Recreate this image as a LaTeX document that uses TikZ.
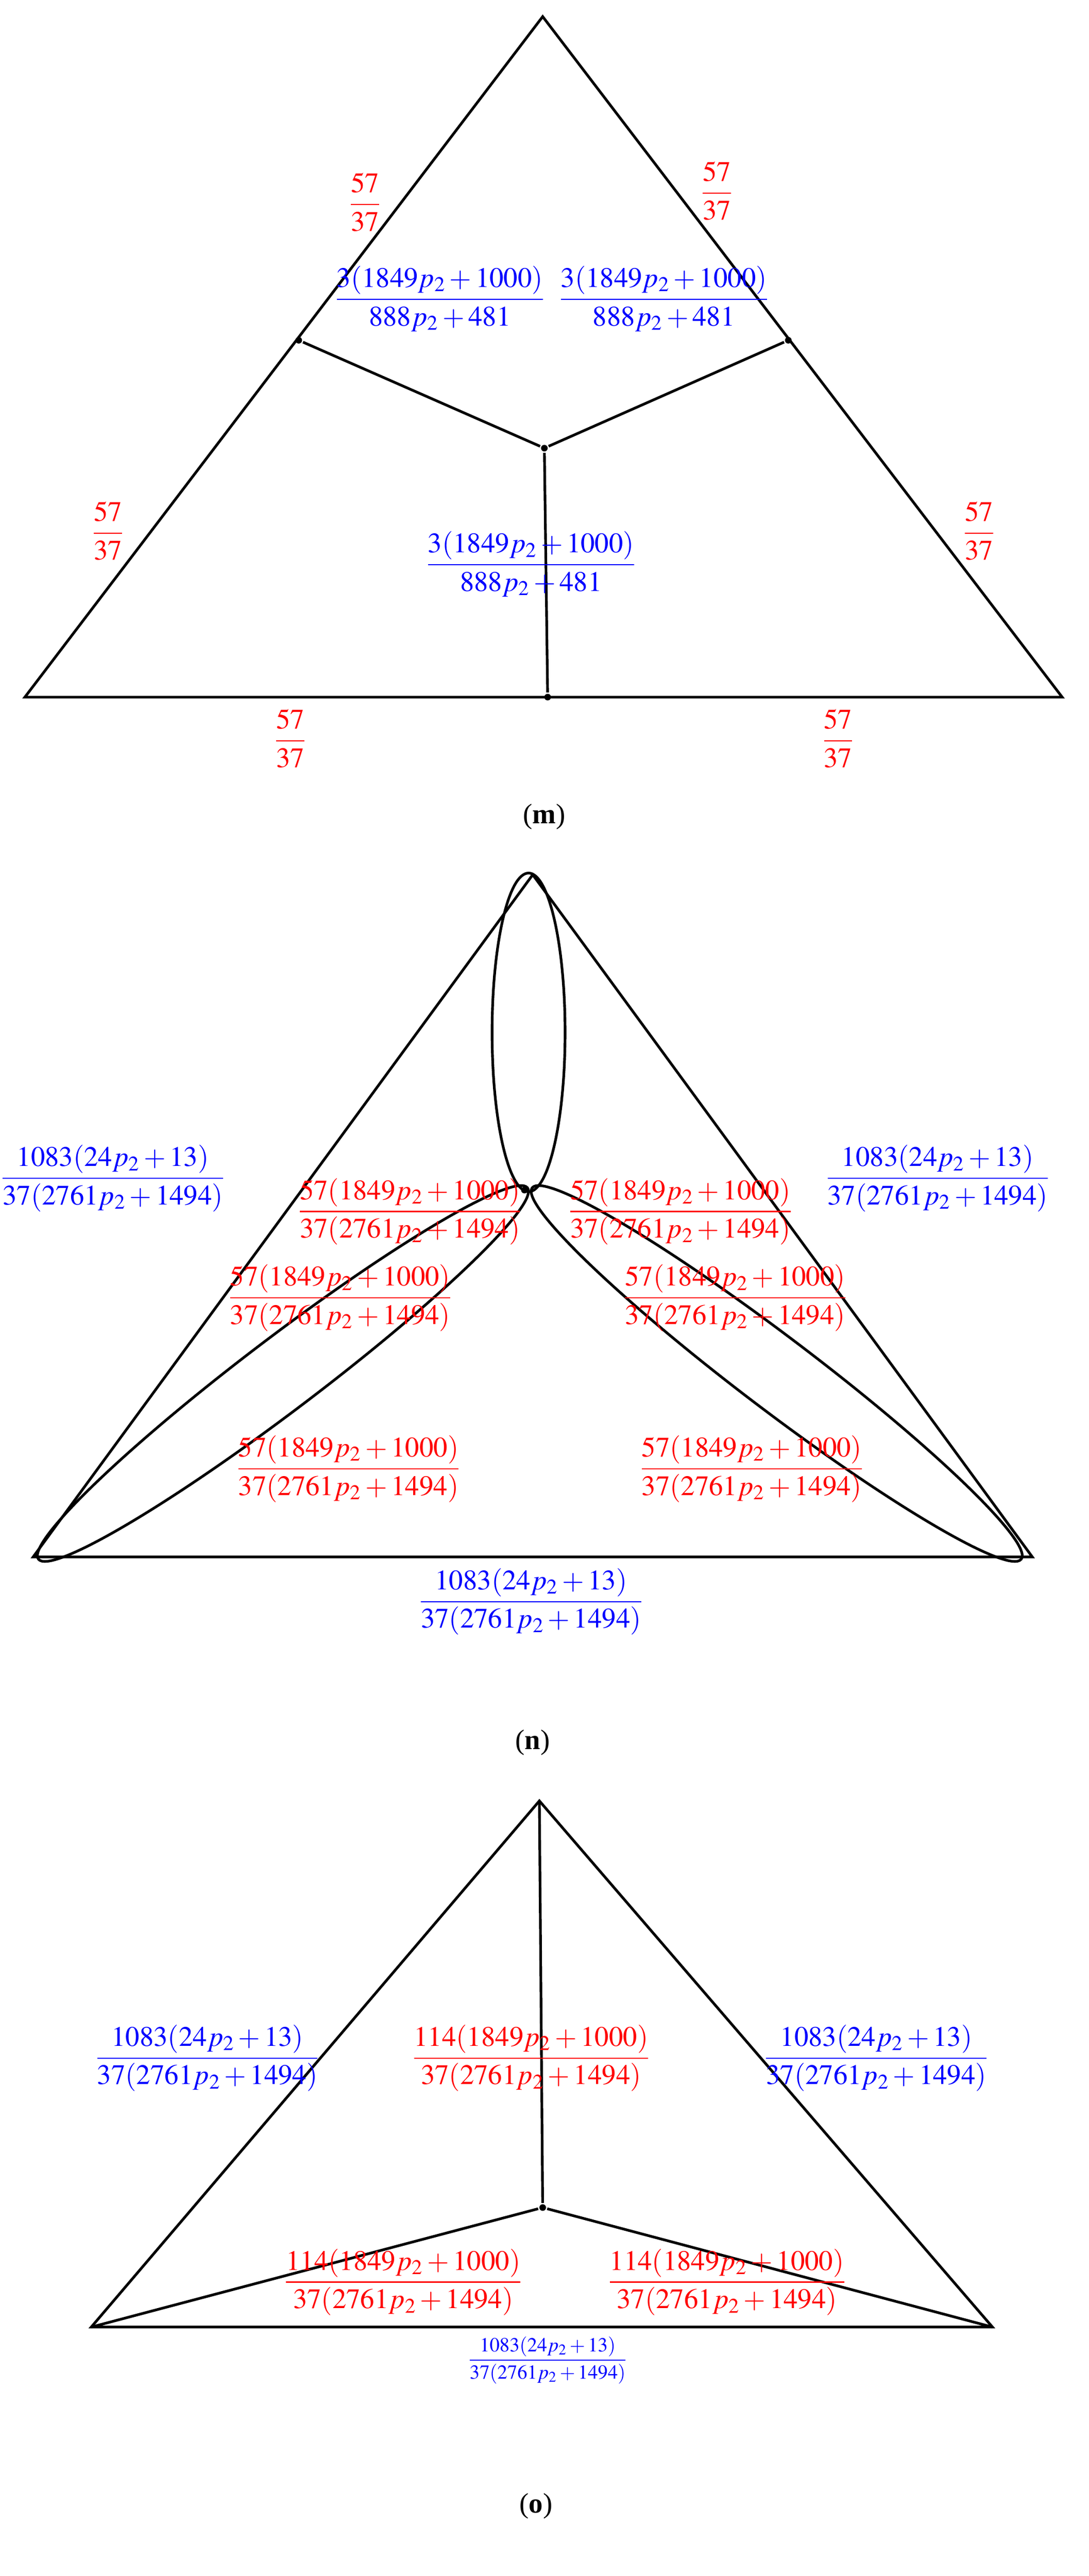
\documentclass[tikz,border=0pt]{standalone}
\usepackage{mathptmx}
\usepackage[no-math]{fontspec}
\setmainfont{Liberation Serif}
\begin{document}
\begin{tikzpicture}[x=1pt,y=-1pt,line width=1.6pt,
  lab/.style={font=\fontsize{17}{20}\selectfont,inner sep=1pt},
  rl/.style={lab,text=red},bl/.style={lab,text=blue},
  captext/.style={font=\fontsize{17}{20}\selectfont},
  dot/.style={circle,fill,inner sep=0pt,minimum size=4pt}]
\useasboundingbox (0,0) rectangle (656,1552);
% (m)
\coordinate (mA) at (15,420); \coordinate (mB) at (640,420); \coordinate (mC) at (327,10);
\draw (mA)--(mB)--(mC)--cycle;
\node[dot] (m1) at (180,205) {}; \node[dot] (m2) at (475,205) {};
\node[dot] (m0) at (328,270) {}; \node[dot] (m3) at (330,420) {};
\draw (m1)--(m0)--(m2); \draw (m0)--(m3);
\foreach \p/\n in {{220,122}/a,{432,115}/b,{65,320}/c,{590,320}/d,{175,445}/e,{505,445}/f}
  \node[rl] (mr\n) at (\p) {$\displaystyle\frac{57}{37}$};
\foreach \p/\n in {{265,180}/a,{400,180}/b,{320,340}/c}
  \node[bl] (mb\n) at (\p) {$\displaystyle\frac{3(1849p_2+1000)}{888p_2+481}$};
\node[captext] (mcap) at (328,492) {(\textbf{m})};
% (n)
\coordinate (nT) at (321,527); \coordinate (nL) at (20,938); \coordinate (nR) at (622,938);
\draw (nT)--(nL)--(nR)--cycle;
\node[dot] (n0) at (316,717) {};
\draw (318.5,622) ellipse[x radius=22,y radius=96];
\draw[rotate around={37.2:(170.5,827.5)}] (170.5,827.5) ellipse[x radius=185,y radius=22];
\draw[rotate around={-37.2:(468,827.5)}] (468,827.5) ellipse[x radius=185,y radius=22];
\foreach \p/\n in {{68,710}/a,{565,710}/b,{320,965}/c}
  \node[bl] (nb\n) at (\p) {$\displaystyle\frac{1083(24p_2+13)}{37(2761p_2+1494)}$};
\foreach \p/\n in {{247,730}/a,{410,730}/b,{205,782}/c,{443,782}/d,{210,885}/e,{453,885}/f}
  \node[rl] (nr\n) at (\p) {$\displaystyle\frac{57(1849p_2+1000)}{37(2761p_2+1494)}$};
\node[captext] (ncap) at (321,1050) {(\textbf{n})};
% (o)
\coordinate (oT) at (325,1085); \coordinate (oL) at (55,1402); \coordinate (oR) at (598,1402);
\draw (oT)--(oL)--(oR)--cycle;
\node[dot] (o0) at (327,1330) {};
\draw (o0)--(oT); \draw (o0)--(oL); \draw (o0)--(oR);
\foreach \p/\n in {{125,1240}/a,{528,1240}/b}
  \node[bl] (ob\n) at (\p) {$\displaystyle\frac{1083(24p_2+13)}{37(2761p_2+1494)}$};
\node[bl,font=\fontsize{12}{14}\selectfont] (obc) at (330,1422) {$\displaystyle\frac{1083(24p_2+13)}{37(2761p_2+1494)}$};
\foreach \p/\n in {{320,1240}/a,{243,1375}/b,{438,1375}/c}
  \node[rl] (or\n) at (\p) {$\displaystyle\frac{114(1849p_2+1000)}{37(2761p_2+1494)}$};
\node[captext] (ocap) at (323,1510) {(\textbf{o})};
\end{tikzpicture}
\end{document}
